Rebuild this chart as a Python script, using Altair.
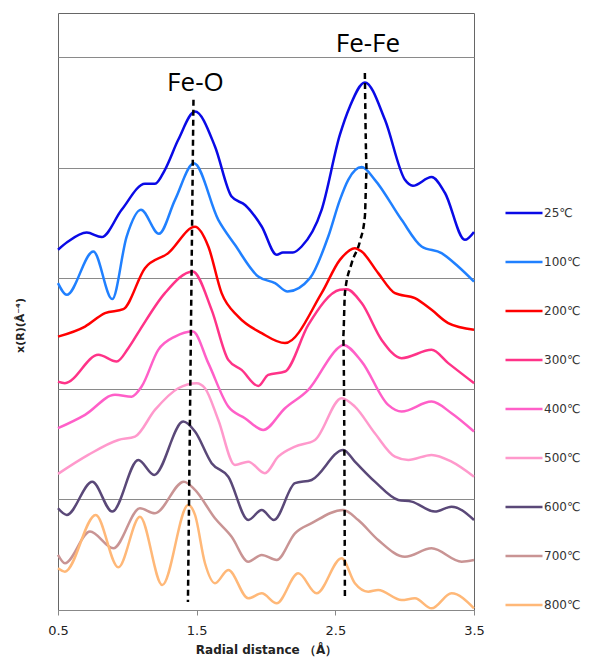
import altair as alt
import pandas as pd

# ---- series labels and colours ----
temps = ["25℃", "100℃", "200℃", "300℃", "400℃", "500℃", "600℃", "700℃", "800℃"]
colors = ["#0A0AE6", "#2080FF", "#FF0000", "#FF3388", "#FF5FC8",
          "#FF99CC", "#5A4878", "#C99494", "#FFB878"]

# ---- curves (R in Å, offset chi(R)) ----
x_25 = [0.5, 0.57, 0.707, 0.815, 0.959, 1.127, 1.199, 1.271, 1.367, 1.488, 1.632, 1.752, 1.851,
        1.969, 2.077, 2.122, 2.194, 2.257, 2.401, 2.533, 2.605, 2.713, 2.858, 3.002, 3.059,
        3.194, 3.290, 3.434, 3.5]
y_25 = [3.258, 3.33, 3.414, 3.373, 3.620, 3.855, 3.855, 3.982, 4.253, 4.509, 4.193, 3.740, 3.661,
        3.469, 3.213, 3.233, 3.233, 3.288, 3.620, 4.299, 4.555, 4.772, 4.434, 3.891, 3.837,
        3.916, 3.774, 3.348, 3.42]

x_100 = [0.5, 0.563, 0.755, 0.891, 0.995, 1.098, 1.228, 1.344, 1.48, 1.656, 1.776, 1.944,
         2.065, 2.156, 2.317, 2.449, 2.533, 2.593, 2.690, 2.785, 2.978, 3.122, 3.266, 3.386, 3.5]
y_100 = [2.957, 2.851, 3.243, 2.812, 3.378, 3.620, 3.403, 3.710, 4.04, 3.529, 3.303, 3.016,
         2.957, 2.881, 3.002, 3.378, 3.710, 3.891, 4.006, 3.891, 3.529, 3.288, 3.228, 3.107, 2.971]

x_200 = [0.5, 0.695, 0.839, 0.971, 1.127, 1.295, 1.488, 1.584, 1.680, 1.800, 1.969, 2.137,
         2.401, 2.533, 2.641, 2.690, 2.809, 2.930, 3.074, 3.194, 3.314, 3.5]
y_200 = [2.473, 2.564, 2.685, 2.721, 3.092, 3.228, 3.466, 3.288, 2.866, 2.654, 2.504, 2.414,
         2.866, 3.167, 3.273, 3.242, 3.047, 2.866, 2.821, 2.715, 2.595, 2.534]

x_300 = [0.5, 0.550, 0.791, 0.923, 1.007, 1.091, 1.271, 1.471, 1.608, 1.728, 1.824, 1.944,
         2.016, 2.137, 2.305, 2.533, 2.581, 2.690, 2.834, 2.978, 3.194, 3.314, 3.5]
y_300 = [2.066, 2.052, 2.308, 2.247, 2.368, 2.534, 2.866, 3.062, 2.715, 2.262, 2.172, 2.027,
         2.127, 2.157, 2.579, 2.896, 2.902, 2.776, 2.443, 2.278, 2.353, 2.233, 2.052]

x_400 = [0.5, 0.695, 0.911, 1.031, 1.103, 1.223, 1.344, 1.473, 1.584, 1.728, 1.848, 1.980,
         2.137, 2.305, 2.533, 2.557, 2.690, 2.881, 2.978, 3.194, 3.338, 3.5]
y_400 = [1.644, 1.765, 1.946, 1.930, 2.021, 2.353, 2.473, 2.519, 2.233, 1.840, 1.735, 1.629,
         1.825, 1.991, 2.383, 2.398, 2.247, 1.855, 1.795, 1.885, 1.780, 1.614]

x_500 = [0.5, 0.718, 0.935, 1.055, 1.199, 1.367, 1.500, 1.560, 1.656, 1.776, 1.872, 1.992,
         2.088, 2.209, 2.353, 2.545, 2.641, 2.785, 2.930, 3.026, 3.194, 3.338, 3.5]
y_500 = [1.231, 1.403, 1.538, 1.568, 1.810, 2.006, 2.052, 2.006, 1.719, 1.312, 1.342, 1.237,
         1.387, 1.478, 1.538, 1.916, 1.840, 1.599, 1.387, 1.357, 1.403, 1.342, 1.206]

x_600 = [0.5, 0.563, 0.747, 0.891, 1.079, 1.194, 1.403, 1.488, 1.608, 1.728, 1.872, 1.969,
         2.057, 2.209, 2.329, 2.557, 2.641, 2.785, 2.954, 3.050, 3.218, 3.338, 3.5]
y_600 = [0.920, 0.860, 1.161, 0.890, 1.357, 1.222, 1.704, 1.614, 1.328, 1.206, 0.814, 0.905,
         0.814, 1.147, 1.176, 1.448, 1.342, 1.161, 0.995, 0.980, 0.890, 0.935, 0.814]

x_700 = [0.5, 0.550, 0.731, 0.899, 1.091, 1.199, 1.408, 1.488, 1.632, 1.752, 1.872, 1.969,
         2.077, 2.209, 2.329, 2.557, 2.665, 2.809, 3.002, 3.194, 3.411, 3.5]
y_700 = [0.498, 0.423, 0.709, 0.558, 0.920, 0.875, 1.161, 1.086, 0.830, 0.663, 0.437, 0.498,
         0.452, 0.694, 0.785, 0.905, 0.814, 0.633, 0.482, 0.558, 0.437, 0.452]

x_800 = [0.5, 0.550, 0.772, 0.935, 1.091, 1.252, 1.439, 1.488, 1.560, 1.632, 1.728, 1.872,
         1.969, 2.077, 2.233, 2.365, 2.545, 2.641, 2.737, 2.809, 2.978, 3.074, 3.194, 3.338, 3.5]
y_800 = [0.377, 0.347, 0.860, 0.386, 0.844, 0.226, 0.950, 0.860, 0.423, 0.242, 0.362, 0.106,
         0.151, 0.061, 0.332, 0.151, 0.468, 0.242, 0.166, 0.181, 0.090, 0.106, 0.015, 0.151, 0.015]

# ---- dashed guide lines ----
feo_x = [1.477, 1.437]
feo_y = [4.615, 0.072]
fefe_x = [2.713, 2.726, 2.713, 2.677, 2.618, 2.569, 2.557, 2.565, 2.569]
fefe_y = [4.857, 3.982, 3.559, 3.333, 3.138, 2.866, 2.473, 1.5, 0.120]

# ---- peak labels ----
peak_labels = ["Fe-O", "Fe-Fe"]
peak_x = [1.491, 2.735]
peak_y = [4.697, 5.050]

xs_all = [x_25, x_100, x_200, x_300, x_400, x_500, x_600, x_700, x_800]
ys_all = [y_25, y_100, y_200, y_300, y_400, y_500, y_600, y_700, y_800]

rows = []
for t, xs, ys in zip(temps, xs_all, ys_all):
    for i, (a, b) in enumerate(zip(xs, ys)):
        rows.append({"temp": t, "r": a, "chi": b, "i": i})
df = pd.DataFrame(rows)

grows = []
for name, xs, ys in [("Fe-O", feo_x, feo_y), ("Fe-Fe", fefe_x, fefe_y)]:
    for i, (a, b) in enumerate(zip(xs, ys)):
        grows.append({"name": name, "r": a, "chi": b, "i": i})
gdf = pd.DataFrame(grows)

ldf = pd.DataFrame({"label": peak_labels, "r": peak_x, "chi": peak_y})

xscale = alt.Scale(domain=[0.5, 3.5], nice=False, zero=False)
yscale = alt.Scale(domain=[0, 5.4], nice=False, zero=True)

xaxis = alt.Axis(values=[0.5, 1.5, 2.5, 3.5], format=".1f", title="Radial distance （Å）",
                 grid=False, labelFont="DejaVu Sans", labelFontSize=13, labelColor="#222",
                 labelFlush=False,
                 domainColor="#888", tickColor="#888", tickSize=5, labelPadding=9,
                 titleFont="DejaVu Sans", titleFontSize=12, titleFontWeight="bold",
                 titleColor="#222", titlePadding=7)
yaxis = alt.Axis(values=[0, 1, 2, 3, 4, 5], labels=False, ticks=False, domain=False,
                 grid=True, gridColor="#8a8a8a", gridWidth=1, title="x(R)(Å⁻⁴)",
                 titleFont="DejaVu Sans", titleFontSize=11, titleFontWeight="bold",
                 titleColor="#222", titleX=-33, titleY=312)

curves = alt.Chart(df).mark_line(strokeWidth=2.5, interpolate="monotone").encode(
    x=alt.X("r:Q", scale=xscale, axis=xaxis),
    y=alt.Y("chi:Q", scale=yscale, axis=yaxis),
    color=alt.Color("temp:N", sort=temps,
                    scale=alt.Scale(domain=temps, range=colors),
                    legend=alt.Legend(title=None, orient="none", direction="vertical",
                                      legendX=446, legendY=180, symbolType="stroke",
                                      symbolSize=1369, symbolStrokeWidth=2.5,
                                      labelFont="DejaVu Sans", labelFontSize=12,
                                      labelColor="#333", labelOffset=0, rowPadding=23,
                                      padding=0)),
    order=alt.Order("i:Q"),
)

guides = alt.Chart(gdf).mark_line(color="black", strokeWidth=2.5, strokeDash=[6, 4],
                                  interpolate="monotone").encode(
    x=alt.X("r:Q", scale=xscale),
    y=alt.Y("chi:Q", scale=yscale),
    detail="name:N",
    order=alt.Order("i:Q"),
)

labels = alt.Chart(ldf).mark_text(font="Open Sans", fontSize=26, baseline="alphabetic",
                                  align="center", color="black").encode(
    x=alt.X("r:Q", scale=xscale),
    y=alt.Y("chi:Q", scale=yscale),
    text="label:N",
)

chart = alt.layer(curves, guides, labels).properties(
    width=416, height=597,
    autosize=alt.AutoSizeParams(type="none"),
    padding={"left": 50, "top": 5, "right": 108, "bottom": 48},
).configure_view(stroke="#666", strokeWidth=1)

chart.save("out.html", embed_options={"renderer": "svg", "actions": False})
